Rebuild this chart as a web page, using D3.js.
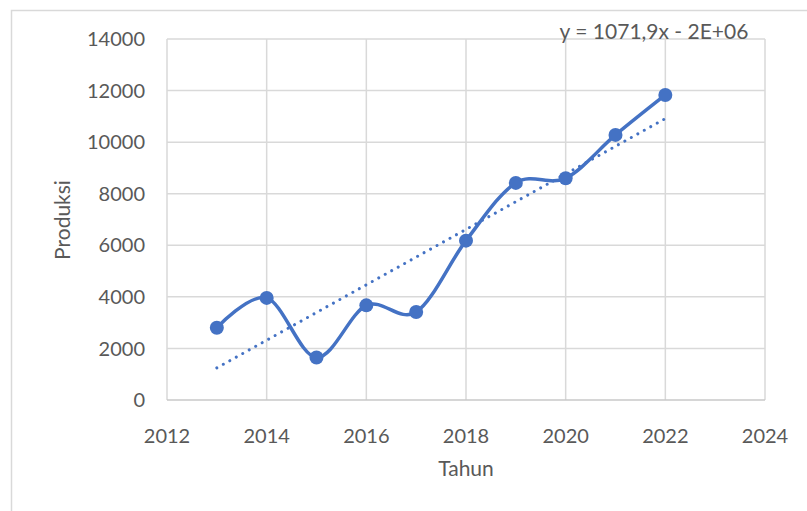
<!DOCTYPE html>
<html>
<head>
<meta charset="utf-8">
<script src="https://cdn.jsdelivr.net/npm/d3@7"></script>
<style>
  body { margin: 0; background: #fff; }
  text { font-family: Lato, "Open Sans", sans-serif; fill: #595959; }
</style>
</head>
<body>
<script>
// values
var years = [2013, 2014, 2015, 2016, 2017, 2018, 2019, 2020, 2021, 2022];
var produksi = [2800, 3960, 1650, 3670, 3410, 6180, 8420, 8600, 10280, 11830];
var xTicks = [2012, 2014, 2016, 2018, 2020, 2022, 2024];
var yTicks = [0, 2000, 4000, 6000, 8000, 10000, 12000, 14000];
var trendLabel = "y = 1071,9x - 2E+06";

var width = 807, height = 511;
var blue = "#4472C4";

var svg = d3.select("body").append("svg")
  .attr("width", width)
  .attr("height", height);

// outer chart border
svg.append("rect")
  .attr("x", 11.5).attr("y", 10.5)
  .attr("width", 820).attr("height", 520)
  .attr("fill", "none").attr("stroke", "#d9d9d9").attr("stroke-width", 1.5);

var x = d3.scaleLinear().domain([2012, 2024]).range([167, 765]);
var y = d3.scaleLinear().domain([0, 14000]).range([400, 39]);

// gridlines
svg.append("g").selectAll("line.h").data(yTicks.slice(1)).enter().append("line")
  .attr("x1", x(2012)).attr("x2", x(2024))
  .attr("y1", function(d) { return y(d); }).attr("y2", function(d) { return y(d); })
  .attr("stroke", "#d9d9d9").attr("stroke-width", 1.5);
svg.append("g").selectAll("line.v").data(xTicks).enter().append("line")
  .attr("x1", function(d) { return x(d); }).attr("x2", function(d) { return x(d); })
  .attr("y1", y(0)).attr("y2", y(14000))
  .attr("stroke", "#d9d9d9").attr("stroke-width", 1.5);
// bottom axis line
svg.append("line")
  .attr("x1", x(2012)).attr("x2", x(2024))
  .attr("y1", y(0)).attr("y2", y(0))
  .attr("stroke", "#c8c8c8").attr("stroke-width", 1.5);

// tick labels
svg.append("g").selectAll("text").data(yTicks).enter().append("text")
  .attr("x", 145).attr("y", function(d) { return y(d); })
  .attr("dy", "0.36em")
  .attr("text-anchor", "end")
  .style("font-size", "20px")
  .text(function(d) { return d; });
svg.append("g").selectAll("text").data(xTicks).enter().append("text")
  .attr("x", function(d) { return x(d); }).attr("y", 436)
  .attr("dy", "0.36em")
  .attr("text-anchor", "middle")
  .style("font-size", "20px")
  .text(function(d) { return d; });

// axis titles
svg.append("text")
  .attr("x", 466).attr("y", 468).attr("dy", "0.36em")
  .attr("text-anchor", "middle")
  .style("font-size", "21px")
  .text("Tahun");
svg.append("text")
  .attr("transform", "translate(62,220) rotate(-90)")
  .attr("dy", "0.36em")
  .attr("text-anchor", "middle")
  .style("font-size", "21px")
  .text("Produksi");

// linear trendline (least squares over the data)
var mx = d3.mean(years), my = d3.mean(produksi);
var sxy = d3.sum(years, function(d, i) { return (d - mx) * (produksi[i] - my); });
var sxx = d3.sum(years, function(d) { return (d - mx) * (d - mx); });
var slope = sxy / sxx, icpt = my - slope * mx;
var trendX = [years[0], years[years.length - 1]];
svg.append("line")
  .attr("x1", x(trendX[0])).attr("y1", y(icpt + slope * trendX[0]))
  .attr("x2", x(trendX[1])).attr("y2", y(icpt + slope * trendX[1]))
  .attr("stroke", blue).attr("stroke-width", 3)
  .attr("stroke-linecap", "round")
  .attr("stroke-dasharray", "0.01 7.4");

// smoothed series line
var line = d3.line()
  .x(function(d, i) { return x(years[i]); })
  .y(function(d) { return y(d); })
  .curve(d3.curveCardinal.tension(0));
svg.append("path")
  .datum(produksi)
  .attr("d", line)
  .attr("fill", "none").attr("stroke", blue).attr("stroke-width", 3.5)
  .attr("stroke-linecap", "round");

svg.append("g").selectAll("circle").data(produksi).enter().append("circle")
  .attr("cx", function(d, i) { return x(years[i]); })
  .attr("cy", function(d) { return y(d); })
  .attr("r", 7)
  .attr("fill", blue);

// trendline equation
svg.append("text")
  .attr("x", 654).attr("y", 31).attr("dy", "0.36em")
  .attr("text-anchor", "middle")
  .style("font-size", "21px")
  .text(trendLabel);
</script>
</body>
</html>
